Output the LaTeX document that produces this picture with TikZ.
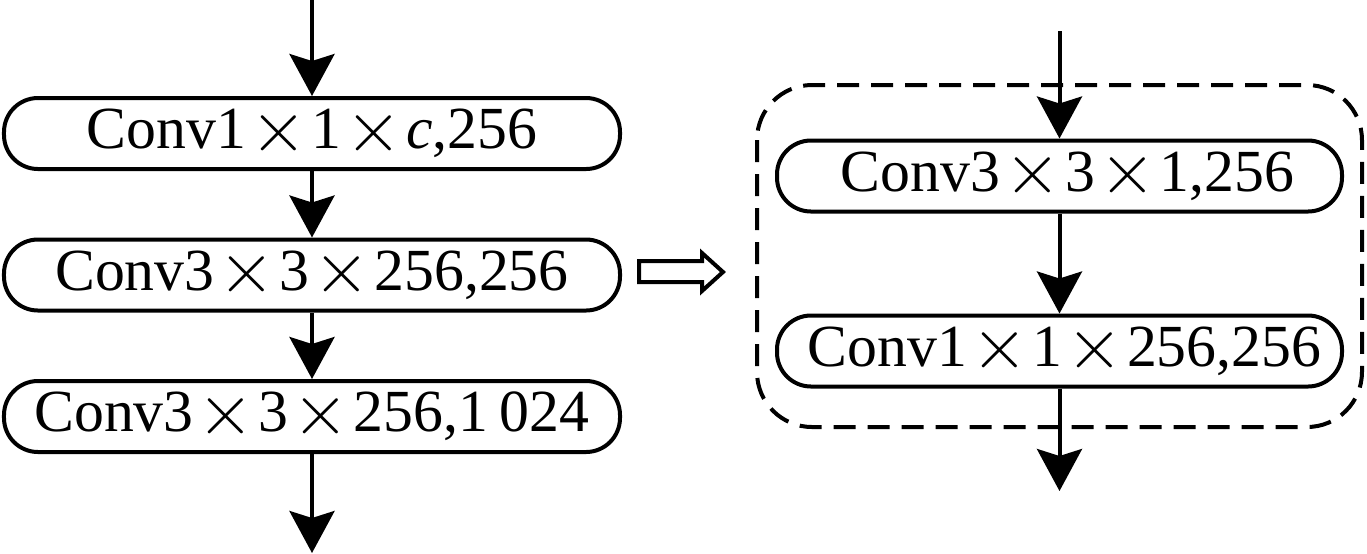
\documentclass[tikz,border=0pt]{standalone}
\usepackage{fontspec}
\setmainfont{Liberation Serif}
\usetikzlibrary{arrows.meta}
\newcommand{\tms}{\hspace{0.07em}\raisebox{-0.04em}{\scalebox{1.2}{$\times$}}\hspace{0.07em}}
\tikzset{
    conv/.style = {draw, line width=0.04cm, rounded corners=0.34cm,
                   minimum height=0.71cm, inner sep=0pt,
                   font=\fontsize{17}{20}\selectfont},
    flow/.style = {line width=0.04cm,
                   -{Stealth[length=0.42cm, width=0.45cm, inset=0.07cm]}}
}
\begin{document}
\begin{tikzpicture}
    \useasboundingbox (0,0) rectangle (13.67,-5.53);
    % original block
    \node [conv, minimum width=6.16cm] (c1) at (3.12,-1.335) {Conv1\tms 1\tms\textit{c},256};
    \node [conv, minimum width=6.16cm] (c2) at (3.12,-2.75) {Conv3\tms 3\tms 256,256};
    \node [conv, minimum width=6.16cm] (c3) at (3.12,-4.165) {Conv3\tms 3\tms 256,1\hspace{0.2em}024};
    \coordinate (cin) at (3.12,0);
    \coordinate (cout) at (3.12,-5.53);
    \draw [flow] (cin) -- (c1);
    \draw [flow] (c1) -- (c2);
    \draw [flow] (c2) -- (c3);
    \draw [flow] (c3) -- (cout);
    % hollow arrow
    \draw [line width=0.04cm] (6.39,-2.61) -- (7.02,-2.61) -- (7.02,-2.53) -- (7.23,-2.72)
        -- (7.02,-2.91) -- (7.02,-2.82) -- (6.39,-2.82) -- cycle;
    % replacement block
    \draw [line width=0.04cm, dash pattern=on 0.22cm off 0.12cm, rounded corners=0.55cm]
        (7.57,-0.85) rectangle (13.62,-4.27);
    \node [conv, minimum width=5.65cm] (r1) at (10.595,-1.76) {\hspace{0.16cm}Conv3\tms 3\tms 1,256};
    \node [conv, minimum width=5.65cm] (r2) at (10.595,-3.51) {\hspace{0.1cm}Conv1\tms 1\tms 256,256};
    \coordinate (rin) at (10.595,-0.31);
    \coordinate (rout) at (10.595,-4.91);
    \draw [flow] (rin) -- (r1);
    \draw [flow] (r1) -- (r2);
    \draw [flow] (r2) -- (rout);
\end{tikzpicture}
\end{document}
